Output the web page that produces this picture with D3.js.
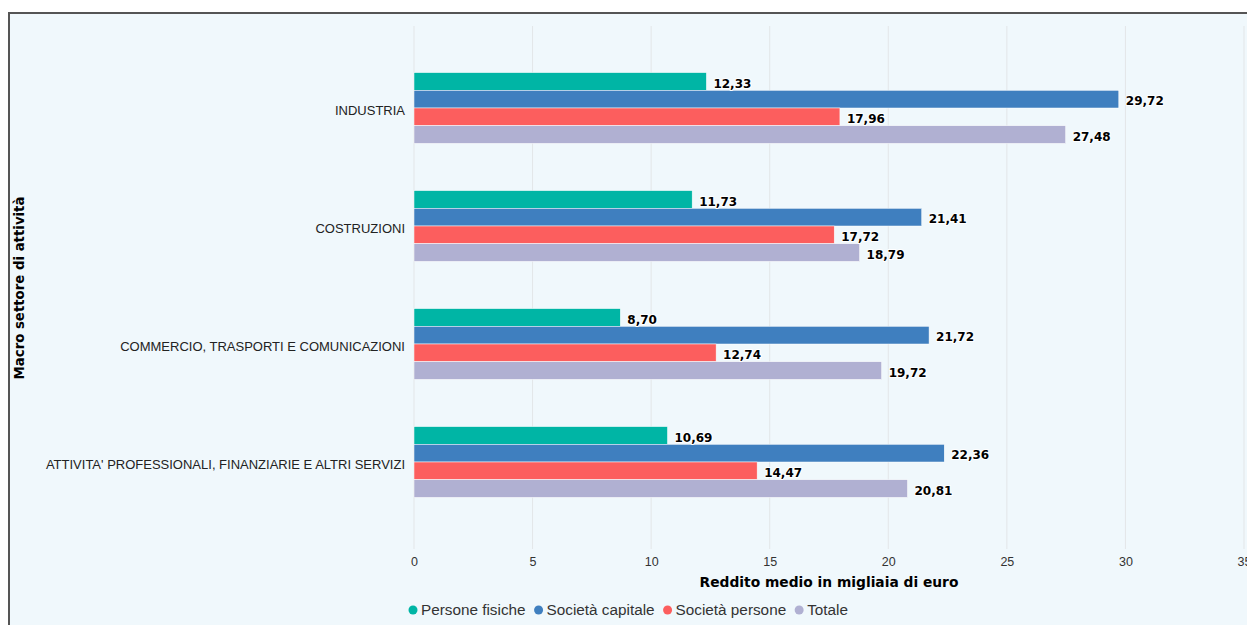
<!DOCTYPE html>
<html>
<head>
<meta charset="utf-8">
<script src="https://cdn.jsdelivr.net/npm/d3@7"></script>
<style>
  html, body { margin: 0; padding: 0; background: #ffffff; }
  svg { display: block; font-family: "Liberation Sans", Arial, sans-serif; }
</style>
</head>
<body>
<svg id="chart" width="1247" height="625"></svg>
<script>
// Average income by macro sector and type of taxpayer (thousands of euro)
const categories = [
  "INDUSTRIA",
  "COSTRUZIONI",
  "COMMERCIO, TRASPORTI E COMUNICAZIONI",
  "ATTIVITA' PROFESSIONALI, FINANZIARIE E ALTRI SERVIZI"
];
const seriesNames = ["Persone fisiche", "Società capitale", "Società persone", "Totale"];
const personeFisiche   = [12.33, 11.73, 8.70, 10.69];
const societaCapitale  = [29.72, 21.41, 21.72, 22.36];
const societaPersone   = [17.96, 17.72, 12.74, 14.47];
const totale           = [27.48, 18.79, 19.72, 20.81];
const xTicks = [0, 5, 10, 15, 20, 25, 30, 35];
const colors = ["#00b5a5", "#3f7fbf", "#fc5e5e", "#b0b0d2"];

const seriesValues = [personeFisiche, societaCapitale, societaPersone, totale];

const svg = d3.select("#chart");
const W = 1247, H = 625;
const boldFont = "'DejaVu Sans', Verdana, sans-serif";

// panel background and frame
svg.append("rect").attr("x", 9).attr("y", 13).attr("width", W).attr("height", H)
  .attr("fill", "#f0f8fc");
svg.append("path").attr("d", `M9,${H} V13 H${W}`)
  .attr("fill", "none").attr("stroke", "#555").attr("stroke-width", 2);

const x = d3.scaleLinear().domain([0, 35]).range([414, 1244]);
const y0 = d3.scaleBand().domain(categories).range([49, 521]).paddingInner(0.4).paddingOuter(0.2);
const y1 = d3.scaleBand().domain(seriesNames).range([0, y0.bandwidth()]);

// vertical gridlines
svg.append("g").selectAll("line").data(xTicks).join("line")
  .attr("x1", d => x(d)).attr("x2", d => x(d))
  .attr("y1", 26).attr("y2", 549)
  .attr("stroke", "#e3e6e8").attr("stroke-width", 1);

// x axis tick labels
const xAxis = d3.axisBottom(x).tickValues(xTicks).tickSize(0).tickPadding(0)
  .tickFormat(d => String(d));
const gx = svg.append("g").attr("transform", "translate(0,557)").call(xAxis);
gx.select(".domain").remove();
gx.selectAll("text").attr("font-size", 12.5).attr("fill", "#333").attr("dy", "0.71em");

// y axis category labels
const yAxis = d3.axisLeft(y0).tickSize(0).tickPadding(9);
const gy = svg.append("g").attr("transform", "translate(414,3)").call(yAxis);
gy.select(".domain").remove();
gy.selectAll("text").attr("font-size", 13).attr("fill", "#222")
  .attr("font-family", "'Liberation Sans', Arial, sans-serif");

// bars
const groups = svg.append("g").selectAll("g").data(categories).join("g")
  .attr("transform", d => `translate(0,${y0(d)})`);

groups.each(function(cat, ci) {
  const g = d3.select(this);
  const rows = seriesNames.map((s, si) => ({ s, si, v: seriesValues[si][ci] }));
  g.selectAll("rect").data(rows).join("rect")
    .attr("x", x(0))
    .attr("y", d => y1(d.s))
    .attr("width", d => x(d.v) - x(0))
    .attr("height", y1.bandwidth())
    .attr("fill", d => colors[d.si])
    .attr("stroke", "#ffffff").attr("stroke-width", 0.5);
  g.selectAll("text").data(rows).join("text")
    .attr("x", d => x(d.v) + 7)
    .attr("y", d => y1(d.s) + y1.bandwidth() / 2 + 2)
    .attr("dy", "0.35em")
    .attr("font-family", boldFont)
    .attr("font-size", 12).attr("font-weight", "bold")
    .attr("fill", "#000")
    .attr("stroke", "#ffffff").attr("stroke-width", 2).attr("paint-order", "stroke")
    .attr("stroke-linejoin", "round")
    .text(d => d3.format(".2f")(d.v).replace(".", ","));
});

// axis titles
svg.append("text").attr("x", 829).attr("y", 587).attr("text-anchor", "middle")
  .attr("font-family", boldFont)
  .attr("font-size", 13.8).attr("font-weight", "bold").attr("fill", "#000")
  .text("Reddito medio in migliaia di euro");
svg.append("text").attr("transform", "translate(24,288) rotate(-90)")
  .attr("text-anchor", "middle")
  .attr("font-family", boldFont)
  .attr("font-size", 13.3).attr("font-weight", "bold").attr("fill", "#000")
  .text("Macro settore di attività");

// legend
const legend = svg.append("g").attr("transform", "translate(409,610)");
let lx = 0;
seriesNames.forEach((s, i) => {
  const item = legend.append("g").attr("transform", `translate(${lx},0)`);
  item.append("circle").attr("cx", 4).attr("cy", 0).attr("r", 4.5).attr("fill", colors[i]);
  const t = item.append("text").attr("x", 12).attr("y", 0).attr("dy", "0.35em")
    .attr("font-size", 15.3).attr("fill", "#333").text(s);
  lx += 12 + t.node().getComputedTextLength() + 9;
});
</script>
</body>
</html>
